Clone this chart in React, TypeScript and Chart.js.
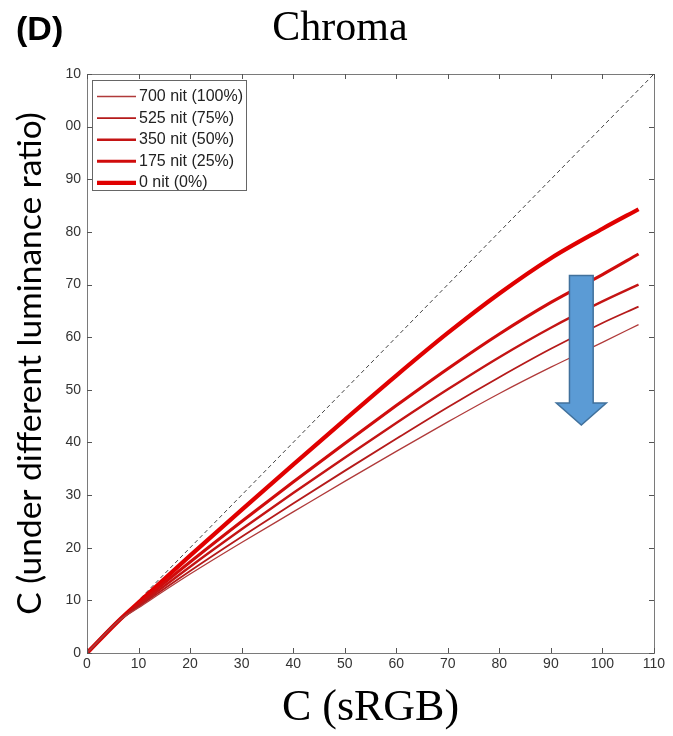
import React, { useEffect, useRef } from 'react';
import { Chart, registerables } from 'chart.js';

Chart.register(...registerables);

// ---- data ----
const xValues = [0, 6, 10, 20, 30, 40, 50, 60, 70, 80, 90, 100, 107];
const nit700 = [0, 6, 8.6, 15.0, 21.0, 26.8, 32.6, 38.3, 43.9, 49.3, 54.3, 59.0, 62.4];
const nit525 = [0, 6, 8.8, 15.6, 22.1, 28.4, 34.6, 40.7, 46.7, 52.4, 57.8, 62.7, 65.8];
const nit350 = [0, 6, 9.0, 16.4, 23.5, 30.4, 37.1, 43.7, 50.1, 56.2, 61.8, 66.8, 70.0];
const nit175 = [0, 6, 9.3, 17.3, 25.0, 32.5, 39.8, 47.0, 54.0, 60.6, 66.6, 71.9, 75.8];
const nit0 = [0, 6, 9.6, 18.5, 27.2, 35.8, 44.3, 52.7, 60.8, 68.3, 75.0, 80.6, 84.3];
const seriesLabels = ['700 nit (100%)', '525 nit (75%)', '350 nit (50%)', '175 nit (25%)', '0 nit (0%)'];
const diagX = [0, 110];
const diagY = [0, 110];
const tickValues = [0, 10, 20, 30, 40, 50, 60, 70, 80, 90, 100, 110];
const xTickLabels = ['0', '10', '20', '30', '40', '50', '60', '70', '80', '90', '100', '110'];
const yTickLabels = ['0', '10', '20', '30', '40', '50', '60', '70', '80', '90', '00', '10'];
// arrow annotation (data units)
const arrowCenterX = 95.9;
const arrowShaftHalf = 2.3;
const arrowHeadHalf = 4.85;
const arrowTop = 71.7;
const arrowHeadBase = 47.5;
const arrowTip = 43.3;

const seriesValues = [nit700, nit525, nit350, nit175, nit0];
const seriesColors = ['#b03a3a', '#b51a1a', '#c41414', '#d00c0c', '#e00000'];
const seriesWidths = [1.3, 1.8, 2.4, 3.1, 4.2];

const decorPlugin = {
  id: 'decor',
  beforeDatasetsDraw(chart: any) {
    const { ctx, chartArea: a } = chart;
    ctx.save();
    ctx.fillStyle = '#ffffff';
    ctx.fillRect(a.left, a.top, a.right - a.left, a.bottom - a.top);
    ctx.restore();
  },
  afterDraw(chart: any) {
    const { ctx, chartArea: a, scales } = chart;
    const xs = scales.x;
    const ys = scales.y;
    ctx.save();
    // box
    ctx.strokeStyle = '#7a7a7a';
    ctx.lineWidth = 1;
    ctx.strokeRect(Math.round(a.left) + 0.5, Math.round(a.top) + 0.5, Math.round(a.right - a.left), Math.round(a.bottom - a.top));
    // inward ticks
    ctx.strokeStyle = '#555';
    ctx.beginPath();
    tickValues.forEach((v) => {
      const px = Math.round(xs.getPixelForValue(v)) + 0.5;
      ctx.moveTo(px, a.bottom);
      ctx.lineTo(px, a.bottom - 5);
      ctx.moveTo(px, a.top);
      ctx.lineTo(px, a.top + 5);
      const py = Math.round(ys.getPixelForValue(v)) + 0.5;
      ctx.moveTo(a.left, py);
      ctx.lineTo(a.left + 5, py);
      ctx.moveTo(a.right, py);
      ctx.lineTo(a.right - 5, py);
    });
    ctx.stroke();

    // legend
    const lx = a.left + 5;
    const ly = a.top + 6;
    const lw = 154;
    const lh = 110;
    ctx.fillStyle = '#fff';
    ctx.fillRect(lx, ly, lw, lh);
    ctx.strokeStyle = '#666';
    ctx.strokeRect(Math.round(lx) + 0.5, Math.round(ly) + 0.5, lw, lh);
    ctx.font = '16px "Liberation Sans", Arial, sans-serif';
    ctx.textBaseline = 'middle';
    ctx.textAlign = 'left';
    seriesLabels.forEach((label, i) => {
      const yy = ly + 16.5 + i * 21.6;
      ctx.strokeStyle = seriesColors[i];
      ctx.lineWidth = seriesWidths[i];
      ctx.beginPath();
      ctx.moveTo(lx + 5, yy);
      ctx.lineTo(lx + 44, yy);
      ctx.stroke();
      ctx.fillStyle = '#222';
      ctx.fillText(label, lx + 47, yy);
    });

    // arrow
    const cx = xs.getPixelForValue(arrowCenterX);
    const sL = xs.getPixelForValue(arrowCenterX - arrowShaftHalf);
    const sR = xs.getPixelForValue(arrowCenterX + arrowShaftHalf);
    const hL = xs.getPixelForValue(arrowCenterX - arrowHeadHalf);
    const hR = xs.getPixelForValue(arrowCenterX + arrowHeadHalf);
    const yT = ys.getPixelForValue(arrowTop);
    const yB = ys.getPixelForValue(arrowHeadBase);
    const yTip = ys.getPixelForValue(arrowTip);
    ctx.beginPath();
    ctx.moveTo(sL, yT);
    ctx.lineTo(sR, yT);
    ctx.lineTo(sR, yB);
    ctx.lineTo(hR, yB);
    ctx.lineTo(cx, yTip);
    ctx.lineTo(hL, yB);
    ctx.lineTo(sL, yB);
    ctx.closePath();
    ctx.fillStyle = '#5b9bd5';
    ctx.fill();
    ctx.strokeStyle = '#41719c';
    ctx.lineWidth = 1.5;
    ctx.stroke();

    // texts
    ctx.fillStyle = '#000';
    ctx.textBaseline = 'middle';
    ctx.textAlign = 'center';
    ctx.font = '42px "Liberation Serif", "Times New Roman", serif';
    ctx.fillText('Chroma', 340, 29);
    ctx.textAlign = 'left';
    ctx.font = 'bold 34px "Liberation Sans", Arial, sans-serif';
    ctx.fillText('(D)', 16, 31);
    ctx.restore();
  },
};

export default function App() {
  const ref = useRef<HTMLCanvasElement | null>(null);
  useEffect(() => {
    if (!ref.current) return;
    const datasets: any[] = seriesValues.map((vals, i) => ({
      label: seriesLabels[i],
      data: xValues.map((x, j) => ({ x, y: vals[j] })),
      borderColor: seriesColors[i],
      borderWidth: seriesWidths[i],
      pointRadius: 0,
      cubicInterpolationMode: 'monotone',
      fill: false,
    }));
    datasets.push({
      label: 'diag',
      data: diagX.map((x, j) => ({ x, y: diagY[j] })),
      borderColor: '#444',
      borderWidth: 1,
      borderDash: [4, 3],
      pointRadius: 0,
      fill: false,
    });
    const chart = new Chart(ref.current, {
      type: 'line',
      data: { datasets },
      options: {
        responsive: false,
        animation: false,
        layout: { padding: { left: 10, right: 19, top: 74, bottom: 0 } },
        plugins: { legend: { display: false }, tooltip: { enabled: false }, title: { display: false } },
        scales: {
          x: {
            type: 'linear',
            min: 0,
            max: 110,
            afterFit: (s: any) => { s.height = 83; },
            afterBuildTicks: (s: any) => { s.ticks = tickValues.map((v) => ({ value: v })); },
            ticks: {
              font: { family: '"Liberation Sans", Arial, sans-serif', size: 14 },
              color: '#333',
              padding: 3,
              maxRotation: 0,
              autoSkip: false,
              callback: (v: any) => xTickLabels[tickValues.indexOf(Number(v))] ?? '',
            },
            grid: { display: false, drawTicks: false },
            border: { display: false },
            title: {
              display: true,
              text: 'C (sRGB)',
              color: '#000',
              font: { family: '"Liberation Serif", "Times New Roman", serif', size: 44 },
              padding: { top: 0, bottom: 1 },
            },
          },
          y: {
            type: 'linear',
            min: 0,
            max: 110,
            afterFit: (s: any) => { s.width = 77; },
            afterBuildTicks: (s: any) => { s.ticks = tickValues.map((v) => ({ value: v })); },
            ticks: {
              font: { family: '"Liberation Sans", Arial, sans-serif', size: 14 },
              color: '#333',
              padding: 6,
              autoSkip: false,
              callback: (v: any) => yTickLabels[tickValues.indexOf(Number(v))] ?? '',
            },
            grid: { display: false, drawTicks: false },
            border: { display: false },
            title: {
              display: true,
              text: 'C (under different luminance ratio)',
              color: '#000',
              font: { family: 'Lato, "Liberation Sans", sans-serif', size: 33.5 },
              padding: { top: 0, bottom: 0 },
            },
          },
        },
      },
      plugins: [decorPlugin],
    });
    return () => chart.destroy();
  }, []);
  return (
    <div style={{ position: 'absolute', left: 0, top: 0, width: 673, height: 736, background: '#fff' }}>
      <canvas ref={ref} width={673} height={736} style={{ display: 'block' }} />
    </div>
  );
}
